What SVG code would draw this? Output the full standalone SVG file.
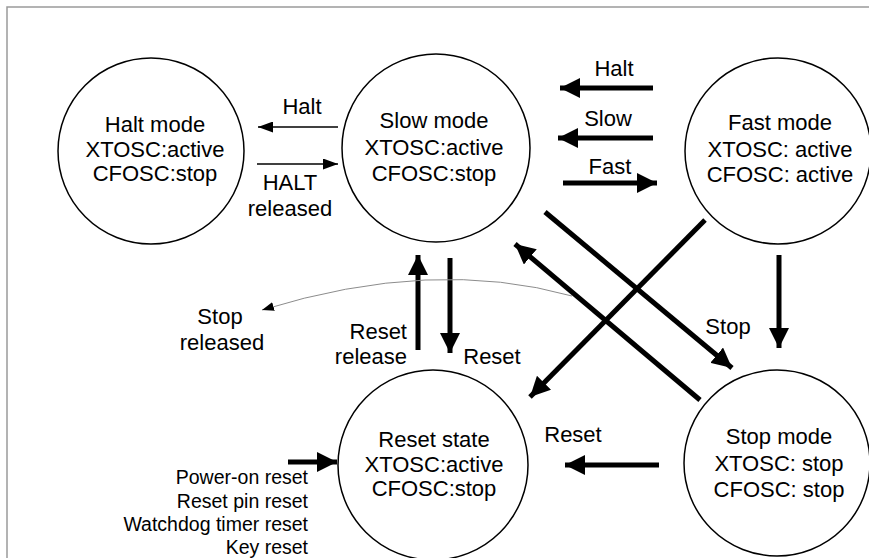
<svg xmlns="http://www.w3.org/2000/svg" width="869" height="558" viewBox="0 0 869 558">
  <style>
    text { font-family: "Liberation Sans", Arial, sans-serif; font-size: 22px; fill: #000; text-anchor: middle; }
    .small { font-size: 19.5px; text-anchor: end; }
    .end { text-anchor: end; }
    .state { fill: #fff; stroke: #000; stroke-width: 1.5; }
    .thick { stroke: #000; stroke-width: 5; fill: none; marker-end: url(#bigHead); }
    .thin { stroke: #000; stroke-width: 1.5; fill: none; marker-end: url(#smallHead); }
    .curve { stroke: #8c8c8c; stroke-width: 1; fill: none; marker-end: url(#tinyHead); }
  </style>
  <defs>
    <marker id="bigHead" markerUnits="userSpaceOnUse" markerWidth="20" markerHeight="20" refX="20" refY="10" orient="auto">
      <path d="M0,0 L20,10 L0,20 Z" fill="#000"/>
    </marker>
    <marker id="smallHead" markerUnits="userSpaceOnUse" markerWidth="15" markerHeight="11" refX="15" refY="5.5" orient="auto">
      <path d="M0,0 L15,5.5 L0,11 Z" fill="#000"/>
    </marker>
    <marker id="tinyHead" markerUnits="userSpaceOnUse" markerWidth="12" markerHeight="9" refX="12" refY="4.5" orient="auto">
      <path d="M0,0 L12,4.5 L0,9 Z" fill="#000"/>
    </marker>
  </defs>

  <!-- frame -->
  <path d="M7,558 L7,7 L869,7" fill="none" stroke="#9a9a9a" stroke-width="1.5"/>

  <!-- states -->
  <g id="halt-mode">
    <circle class="state" cx="151" cy="151" r="93"/>
    <text x="155" y="132">Halt mode</text>
    <text x="155" y="157">XTOSC:active</text>
    <text x="155" y="181">CFOSC:stop</text>
  </g>
  <g id="slow-mode">
    <circle class="state" cx="436" cy="148" r="94"/>
    <text x="434" y="128">Slow mode</text>
    <text x="434" y="155">XTOSC:active</text>
    <text x="434" y="181">CFOSC:stop</text>
  </g>
  <g id="fast-mode">
    <circle class="state" cx="778" cy="151" r="93"/>
    <text x="780" y="130">Fast mode</text>
    <text x="780" y="157">XTOSC: active</text>
    <text x="780" y="182">CFOSC: active</text>
  </g>
  <g id="reset-state">
    <circle class="state" cx="433" cy="465" r="95"/>
    <text x="434" y="447">Reset state</text>
    <text x="434" y="472">XTOSC:active</text>
    <text x="434" y="496">CFOSC:stop</text>
  </g>
  <g id="stop-mode">
    <circle class="state" cx="777" cy="463" r="93"/>
    <text x="779" y="444">Stop mode</text>
    <text x="779" y="471">XTOSC: stop</text>
    <text x="779" y="497">CFOSC: stop</text>
  </g>

  <!-- transitions -->
  <g id="connectors">
    <line class="thin" x1="338" y1="127" x2="258" y2="127"/>
    <line class="thin" x1="257" y1="164" x2="338" y2="164"/>
    <line class="thick" x1="653" y1="88" x2="560" y2="88"/>
    <line class="thick" x1="653" y1="138" x2="558" y2="138"/>
    <line class="thick" x1="563" y1="183" x2="657" y2="183"/>
    <line class="thick" x1="779" y1="255" x2="779" y2="348"/>
    <line class="thick" x1="705" y1="220" x2="530" y2="397"/>
    <line class="thick" x1="545" y1="212" x2="732" y2="368"/>
    <line class="thick" x1="700" y1="400" x2="515" y2="244"/>
    <line class="thick" x1="418" y1="350" x2="418" y2="255"/>
    <line class="thick" x1="450" y1="258" x2="450" y2="353"/>
    <line class="thick" x1="659" y1="465" x2="565" y2="465"/>
    <line class="thick" x1="288" y1="462" x2="337" y2="462"/>
    <path class="curve" d="M572,296 Q433,257 262,310"/>
  </g>

  <!-- transition labels -->
  <g id="labels">
    <text x="302" y="114">Halt</text>
    <text x="290" y="190">HALT</text>
    <text x="290" y="216">released</text>
    <text x="614" y="76">Halt</text>
    <text x="608" y="126">Slow</text>
    <text x="610" y="174">Fast</text>
    <text x="728" y="334">Stop</text>
    <text x="220" y="324">Stop</text>
    <text x="222" y="350">released</text>
    <text class="end" x="407" y="339">Reset</text>
    <text class="end" x="407" y="364">release</text>
    <text x="492" y="364">Reset</text>
    <text x="573" y="442">Reset</text>
    <text class="small" x="308" y="484">Power-on reset</text>
    <text class="small" x="308" y="508">Reset pin reset</text>
    <text class="small" x="308" y="531">Watchdog timer reset</text>
    <text class="small" x="308" y="554">Key reset</text>
  </g>
</svg>
